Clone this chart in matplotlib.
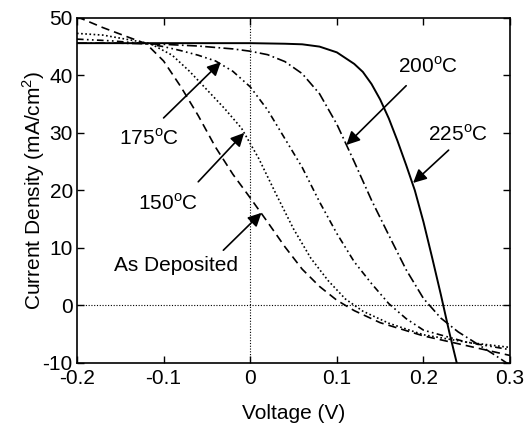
import numpy as np
import matplotlib
matplotlib.use('Agg')
import matplotlib.pyplot as plt

plt.rcParams['font.family'] = ['Liberation Sans', 'DejaVu Sans']
plt.rcParams['mathtext.fontset'] = 'custom'
plt.rcParams['mathtext.rm'] = 'Liberation Sans'
plt.rcParams['axes.unicode_minus'] = False

# J-V curves (V in volts, J in mA/cm2)
v_asdep = [-0.20, -0.17, -0.14, -0.12, -0.10, -0.08, -0.06, -0.04, -0.02, 0.00,
           0.02, 0.04, 0.06, 0.08, 0.10, 0.12, 0.15, 0.20, 0.25, 0.30]
j_asdep = [50.2, 48.3, 46.6, 45.5, 42.5, 38.0, 33.0, 27.5, 22.8, 18.7,
           14.5, 10.2, 6.3, 3.3, 0.9, -0.9, -3.0, -5.3, -7.0, -8.7]

v_150 = [-0.20, -0.17, -0.14, -0.115, -0.09, -0.07, -0.05, -0.03, -0.01, 0.01,
         0.03, 0.05, 0.07, 0.09, 0.11, 0.13, 0.16, 0.20, 0.25, 0.30]
j_150 = [47.3, 47.0, 46.2, 45.5, 43.5, 40.7, 37.5, 34.3, 30.8, 25.5,
         19.3, 13.3, 8.2, 4.3, 1.1, -1.0, -3.1, -5.1, -6.4, -7.3]

v_175 = [-0.20, -0.16, -0.12, -0.10, -0.08, -0.06, -0.04, -0.02, 0.00, 0.02,
         0.04, 0.06, 0.08, 0.10, 0.12, 0.14, 0.16, 0.18, 0.20, 0.25, 0.30]
j_175 = [46.3, 46.0, 45.5, 45.0, 44.3, 43.5, 42.5, 40.7, 38.0, 34.0,
         29.0, 24.0, 18.0, 12.5, 7.6, 3.8, 0.3, -2.3, -4.3, -6.4, -7.7]

v_200 = [-0.20, -0.15, -0.10, -0.06, -0.02, 0.00, 0.02, 0.04, 0.06, 0.08,
         0.10, 0.12, 0.14, 0.16, 0.18, 0.20, 0.22, 0.24, 0.26, 0.28, 0.30]
j_200 = [45.6, 45.6, 45.4, 45.1, 44.6, 44.2, 43.6, 42.4, 40.3, 36.8,
         31.5, 25.0, 18.3, 12.2, 6.2, 1.2, -2.2, -4.6, -6.5, -8.4, -10.4]

v_225 = [-0.20, -0.10, 0.00, 0.04, 0.06, 0.08, 0.10, 0.12, 0.13, 0.14,
         0.15, 0.16, 0.17, 0.18, 0.19, 0.20, 0.21, 0.22, 0.23, 0.24]
j_225 = [45.6, 45.6, 45.6, 45.5, 45.4, 45.0, 44.0, 42.0, 40.6, 38.5,
         35.8, 32.5, 28.6, 24.4, 20.0, 14.5, 8.3, 1.9, -4.8, -11.0]

# label text, text position, arrow tail, arrow tip
labels = ['As Deposited', '150$^{\\mathrm{o}}$C', '175$^{\\mathrm{o}}$C',
          '200$^{\\mathrm{o}}$C', '225$^{\\mathrm{o}}$C']
label_xy = [(-0.086, 6.9), (-0.095, 17.8), (-0.117, 29.1), (0.205, 41.5), (0.240, 29.8)]
arrow_from = [(-0.031, 9.6), (-0.060, 21.5), (-0.100, 32.6), (0.180, 38.2), (0.229, 27.0)]
arrow_to = [(0.013, 16.1), (-0.007, 30.0), (-0.034, 42.3), (0.111, 27.9), (0.188, 21.3)]

fig = plt.figure(figsize=(5.27, 4.25), dpi=100)
ax = fig.add_axes([0.146, 0.146, 0.822, 0.812])

lw = 1.2
ax.plot(v_asdep, j_asdep, color='k', lw=lw, ls=(0, (5, 3)))
ax.plot(v_150, j_150, color='k', lw=lw, ls=(0, (1, 1.5)))
ax.plot(v_175, j_175, color='k', lw=lw, ls=(0, (4, 2, 1, 2, 1, 2)))
ax.plot(v_200, j_200, color='k', lw=lw, ls=(0, (6, 2, 1, 2)))
ax.plot(v_225, j_225, color='k', lw=1.4, ls='-')

ax.axhline(0, color='k', lw=0.8, ls=(0, (1, 1.5)))
ax.axvline(0, color='k', lw=0.8, ls=(0, (1, 1.5)))

for txt, pos, a, b in zip(labels, label_xy, arrow_from, arrow_to):
    ax.text(pos[0], pos[1], txt, fontsize=15, ha='center', va='center')
    ax.annotate('', xy=b, xytext=a,
                arrowprops=dict(arrowstyle='-|>', color='k', lw=1.2,
                                mutation_scale=20, shrinkA=0, shrinkB=0))

ax.set_xlim(-0.2, 0.3)
ax.set_ylim(-10, 50)
ax.set_xticks([-0.2, -0.1, 0, 0.1, 0.2, 0.3])
ax.set_xticklabels(['-0.2', '-0.1', '0', '0.1', '0.2', '0.3'])
ax.set_yticks([-10, 0, 10, 20, 30, 40, 50])
ax.tick_params(direction='in', top=True, right=True, length=5, width=1,
               labelsize=15)
ax.tick_params(axis='x', pad=4)
ax.tick_params(axis='y', pad=3)
for s in ax.spines.values():
    s.set_linewidth(1.2)

ax.set_xlabel('Voltage (V)', fontsize=15, labelpad=12)
ax.set_ylabel('Current Density (mA/cm$^2$)', fontsize=15, labelpad=-3)

fig.savefig('out.png', dpi=100)
